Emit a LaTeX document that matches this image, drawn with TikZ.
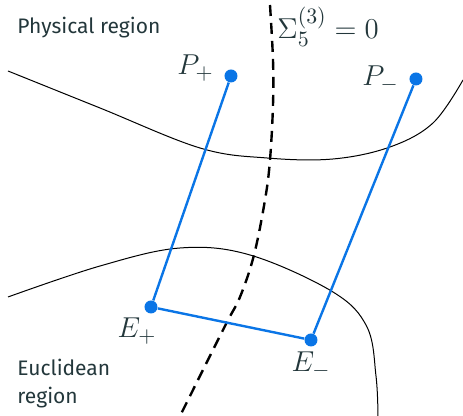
\documentclass[tikz,border=0pt]{standalone}
\usepackage{fontspec}
\setmainfont{Fira Sans}
\usetikzlibrary{positioning}
\definecolor{darktext}{HTML}{23373B}
\definecolor{ptblue}{HTML}{0A75E6}
\tikzset{
  pt/.style={circle,fill=ptblue,minimum size=6.5pt,inner sep=0pt},
  ptlabel/.style={font=\fontsize{15}{18}\selectfont,text=darktext,inner sep=0pt},
  link/.style={ptblue,line width=1.2pt},
  boundary/.style={black,line width=0.5pt},
  sigma/.style={black,line width=1.2pt,dash pattern=on 5.5pt off 3.5pt},
  region/.style={font=\fontsize{10.5}{14}\selectfont,text=darktext,align=left,anchor=west,inner sep=0pt},
}
\begin{document}
\begin{tikzpicture}[x=0.5pt,y=0.5pt]
  \useasboundingbox (0,0) rectangle (463,416);

  % region boundaries
  \draw[boundary] plot[smooth,tension=0.6] coordinates {(8,345) (100,308) (200,268) (267,258) (333,257) (390,269) (433,293) (463,336)};
  \draw[boundary] plot[smooth,tension=0.6] coordinates {(8,119) (100,150) (180,168) (250,161) (333,124) (367,89) (376,40) (378,0)};

  % Sigma = 0 surface
  \draw[sigma] plot[smooth,tension=0.6] coordinates {(270,411) (273,356) (273,311) (270,256) (265,216) (254,161) (240,119) (225,90) (180,0)};

  \node[region] (phys) at (17,388) {Physical region};
  \node[region] (eucl) at (17,32)  {Euclidean\\region};
  \node[ptlabel,anchor=base west] (sig) at (277,377) {$\Sigma_5^{(3)}=0$};

  % points
  \node[pt] (pplus)  at (231,340) {};
  \node[pt] (pminus) at (416,337) {};
  \node[pt] (eplus)  at (151,109) {};
  \node[pt] (eminus) at (311,76)  {};

  \draw[link] (pplus)  -- (eplus);
  \draw[link] (pminus) -- (eminus);
  \draw[link] (eplus)  -- (eminus);

  \node[ptlabel,left=5pt of pplus,yshift=4pt]     (lpplus)  {$P_+$};
  \node[ptlabel,left=5pt of pminus]               (lpminus) {$P_-$};
  \node[ptlabel,below=2pt of eplus,xshift=-7pt]   (leplus)  {$E_+$};
  \node[ptlabel,below=2.5pt of eminus]            (leminus) {$E_-$};

\end{tikzpicture}
\end{document}
